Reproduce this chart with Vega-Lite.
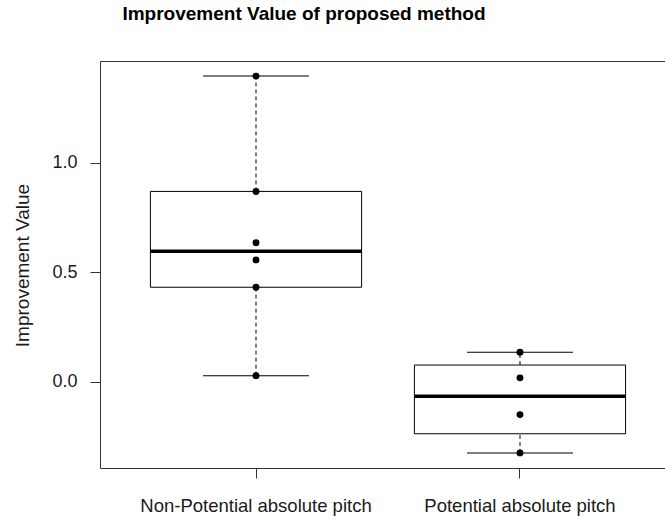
{
  "$schema": "https://vega.github.io/schema/vega-lite/v6.json",
  "autosize": {"type": "none"},
  "padding": {"left": 100, "top": 61, "right": 0, "bottom": 50},
  "width": 576,
  "height": 407,
  "background": "white",
  "config": {
    "font": "Liberation Sans",
    "view": {"stroke": "#333333", "strokeWidth": 1},
    "axis": {"grid": false, "domain": false, "tickColor": "#333333", "labelColor": "#1a1a1a", "titleColor": "#1a1a1a", "labelFont": "Liberation Sans", "titleFont": "Liberation Sans"}
  },
  "title": {
    "text": "Improvement Value of proposed method",
    "fontSize": 19,
    "fontWeight": "bold",
    "font": "Liberation Sans",
    "color": "#000000",
    "anchor": "middle",
    "dx": -84,
    "offset": 37,
    "frame": "group"
  },
  "datasets": {
    "stats": [
      {"group": "Non-Potential absolute pitch", "lower": 0.027, "q1": 0.431, "median": 0.595, "q3": 0.869, "upper": 1.396},
      {"group": "Potential absolute pitch", "lower": -0.326, "q1": -0.2385, "median": -0.067, "q3": 0.0755, "upper": 0.134}
    ],
    "points": [
      {"group": "Non-Potential absolute pitch", "value": 1.396},
      {"group": "Non-Potential absolute pitch", "value": 0.869},
      {"group": "Non-Potential absolute pitch", "value": 0.634},
      {"group": "Non-Potential absolute pitch", "value": 0.556},
      {"group": "Non-Potential absolute pitch", "value": 0.431},
      {"group": "Non-Potential absolute pitch", "value": 0.027},
      {"group": "Potential absolute pitch", "value": 0.134},
      {"group": "Potential absolute pitch", "value": 0.017},
      {"group": "Potential absolute pitch", "value": -0.151},
      {"group": "Potential absolute pitch", "value": -0.326}
    ]
  },
  "encoding": {
    "x": {
      "field": "group",
      "type": "nominal",
      "sort": ["Non-Potential absolute pitch", "Potential absolute pitch"],
      "scale": {"type": "band", "paddingInner": 0, "paddingOuter": 0.091},
      "axis": {"title": null, "labelAngle": 0, "labelFontSize": 18.5, "tickSize": 10, "labelPadding": 33, "labelBaseline": "alphabetic", "labelLimit": 0, "labelOverlap": false}
    }
  },
  "layer": [
    {
      "data": {"name": "stats"},
      "mark": {"type": "rule", "strokeDash": [4, 3], "color": "#000000", "strokeWidth": 1},
      "encoding": {
        "y": {"field": "q3", "type": "quantitative", "scale": {"domain": [-0.395, 1.465], "nice": false, "zero": false},
          "axis": {"title": "Improvement Value", "values": [0, 0.5, 1.0], "format": ".1f", "labelFontSize": 18, "tickSize": 10, "labelPadding": 13, "titleFontSize": 19, "titleFontWeight": "normal", "titleX": -78, "titleY": 204, "titleBaseline": "middle", "titleAlign": "center", "titleAngle": -90}},
        "y2": {"field": "upper"}
      }
    },
    {
      "data": {"name": "stats"},
      "mark": {"type": "rule", "strokeDash": [4, 3], "color": "#000000", "strokeWidth": 1},
      "encoding": {
        "y": {"field": "lower", "type": "quantitative"},
        "y2": {"field": "q1"}
      }
    },
    {
      "data": {"name": "stats"},
      "mark": {"type": "bar", "fill": "white", "stroke": "#000000", "strokeWidth": 1, "width": {"band": 0.8}},
      "encoding": {
        "y": {"field": "q1", "type": "quantitative"},
        "y2": {"field": "q3"}
      }
    },
    {
      "data": {"name": "stats"},
      "mark": {"type": "tick", "color": "#000000", "thickness": 3.5, "size": 211, "opacity": 1},
      "encoding": {
        "y": {"field": "median", "type": "quantitative"}
      }
    },
    {
      "data": {"name": "stats"},
      "mark": {"type": "tick", "color": "#000000", "thickness": 1, "size": 106, "opacity": 1},
      "encoding": {
        "y": {"field": "lower", "type": "quantitative"}
      }
    },
    {
      "data": {"name": "stats"},
      "mark": {"type": "tick", "color": "#000000", "thickness": 1, "size": 106, "opacity": 1},
      "encoding": {
        "y": {"field": "upper", "type": "quantitative"}
      }
    },
    {
      "data": {"name": "points"},
      "mark": {"type": "circle", "color": "#000000", "size": 48, "opacity": 1},
      "encoding": {
        "y": {"field": "value", "type": "quantitative"}
      }
    }
  ]
}
